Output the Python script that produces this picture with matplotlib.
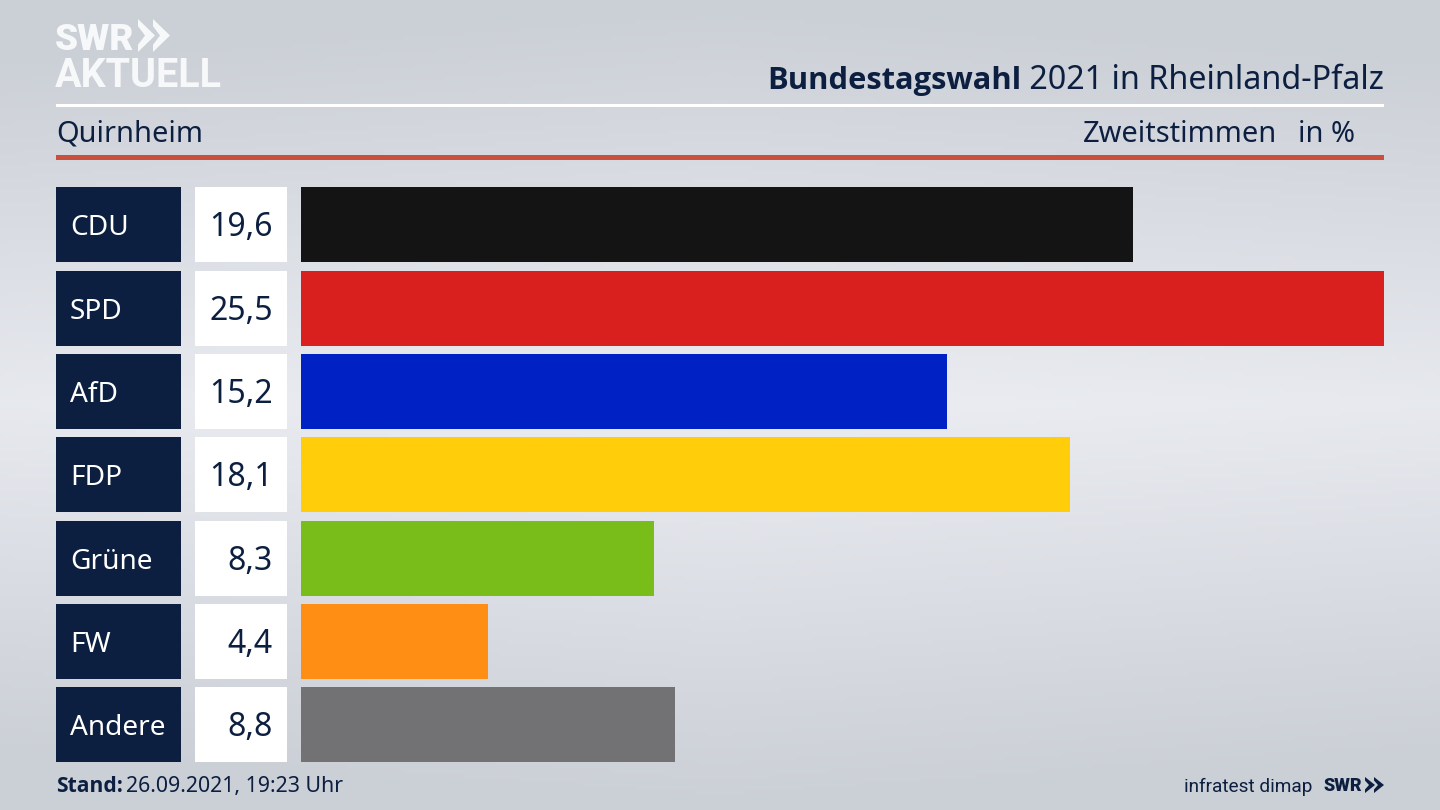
import numpy as np
import matplotlib
matplotlib.use("Agg")
import matplotlib.pyplot as plt
from matplotlib.patches import Rectangle, Polygon

parties = ["CDU", "SPD", "AfD", "FDP", "Grüne", "FW", "Andere"]
values = [19.6, 25.5, 15.2, 18.1, 8.3, 4.4, 8.8]
value_labels = ["19,6", "25,5", "15,2", "18,1", "8,3", "4,4", "8,8"]
colors = ["#141414", "#d9201f", "#0021c4", "#ffcd0a", "#78bd1a", "#ff8e15", "#727274"]

NAVY = "#0c1f40"
LOGO = "#f7f8f9"
W, H = 1440, 810
plt.rcParams["font.family"] = ["Noto Sans", "DejaVu Sans"]

fig = plt.figure(figsize=(14.4, 8.1), dpi=100)

# page in pixel coordinates, background and header live here
page = fig.add_axes([0, 0, 1, 1])
page.axis("off")

yy, xx = np.mgrid[0:1:200j, 0:1:360j]
shade = np.clip(1 - np.abs(yy - 0.5) / 0.5 - 0.25 * np.abs(xx - 0.5), 0, 1)
low = np.array([203, 207, 214]) / 255
high = np.array([235, 237, 242]) / 255
bg = low + (high - low) * shade[..., None]
page.imshow(bg, extent=(0, W, H, 0), aspect="auto", zorder=0)
page.set_xlim(0, W)
page.set_ylim(H, 0)


def px(size):
    return size * 0.72


def chevrons(xs, top, bottom, width, notch, color):
    mid = (top + bottom) / 2
    for x0 in xs:
        cut = (bottom - top) * 0.22
        page.add_patch(Polygon([(x0, top), (x0 + width, mid), (x0, bottom), (x0, bottom - cut),
                                (x0 + notch, mid), (x0, top + cut)], closed=True, color=color, lw=0))


# logo
page.text(55, 50, "SWR", color=LOGO, fontsize=px(37), fontweight="black",
          family="Roboto", va="baseline", ha="left")
chevrons((138, 153), 19, 52, 17, 7, LOGO)
page.text(55, 87, "AKTUELL", color=LOGO, fontsize=px(39.5), fontweight="bold",
          family="Roboto", va="baseline", ha="left")

# header
page.add_patch(Rectangle((56, 104), 1328, 3, color="white", lw=0))
page.add_patch(Rectangle((56, 155), 1328, 5, color="#c8503c", lw=0))
t = page.text(1384, 89, " 2021 in Rheinland-Pfalz", color=NAVY, fontsize=px(32.3), ha="right", va="baseline")
fig.canvas.draw()
title_x = page.transData.inverted().transform((t.get_window_extent().x0, 0))[0]
page.text(title_x, 89, "Bundestagswahl", color=NAVY, fontsize=px(30.9), fontweight="bold", family="Open Sans",
          ha="right", va="baseline")
page.text(56, 142, "Quirnheim", color=NAVY, fontsize=px(29), ha="left", va="baseline")
page.text(1277, 142, "Zweitstimmen", color=NAVY, fontsize=px(29), ha="right", va="baseline")
page.text(1355, 142, "in %", color=NAVY, fontsize=px(29), ha="right", va="baseline")

# row labels
for i, (name, label) in enumerate(zip(parties, value_labels)):
    top = 187.3 + i * 83.33
    page.add_patch(Rectangle((56, top), 125, 75, color=NAVY, lw=0))
    page.add_patch(Rectangle((195, top), 92, 75, color="white", lw=0))
    page.text(70, top + 48, name, color="white", fontsize=px(28), ha="left", va="baseline")
    page.text(273, top + 49, label, color=NAVY, fontsize=px(32), ha="right", va="baseline")

# footer
page.text(56, 792, "Stand:", color=NAVY, fontsize=px(21), fontweight="bold", family="Open Sans",
          ha="left", va="baseline")
page.text(126, 792, "26.09.2021, 19:23 Uhr", color=NAVY, fontsize=px(21.3), ha="left", va="baseline")
page.text(1312, 792, "infratest dimap", color=NAVY, fontsize=px(19), family="Roboto", ha="right", va="baseline")
page.text(1324, 791, "SWR", color=NAVY, fontsize=px(18), fontweight="black", family="Roboto",
          ha="left", va="baseline")
chevrons((1365, 1374), 777, 793, 10, 4, NAVY)

# bars
ax = fig.add_axes([301.2 / W, (H - 762.3) / H, 1082.8 / W, 575 / H])
ax.patch.set_alpha(0)
ax.barh(range(len(parties)), values, height=0.9, color=colors)
ax.set_xlim(0, 25.5)
ax.set_ylim(6.45, -0.45)
ax.axis("off")

fig.savefig("out.png", dpi=100)
